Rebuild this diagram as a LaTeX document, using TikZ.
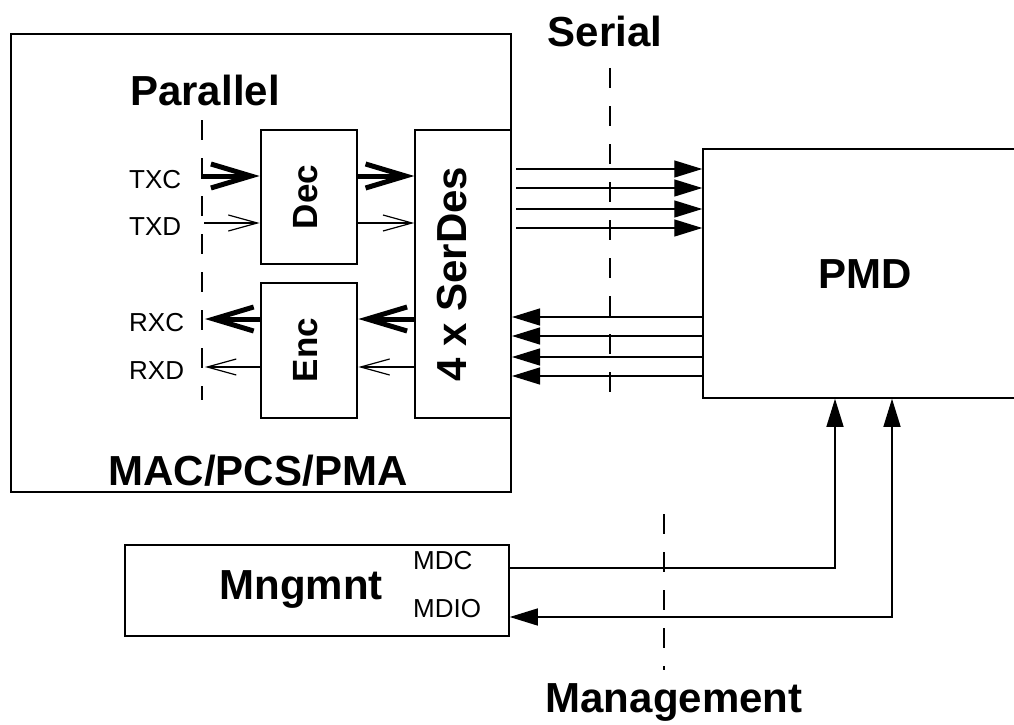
\documentclass[tikz,border=0pt]{standalone}
\usepackage{fontspec}
\setmainfont{Liberation Sans}
\usetikzlibrary{arrows.meta}
\begin{document}
\begin{tikzpicture}[x=1pt,y=-1pt,
  box/.style={draw, inner sep=0pt, line width=1.5pt},
  blockbox/.style={box, line width=2.8pt},
  biglabel/.style={inner sep=0pt, anchor=base, font=\fontsize{42}{48}\selectfont\bfseries},
  midlabel/.style={inner sep=0pt, font=\fontsize{35}{40}\selectfont\bfseries},
  siglabel/.style={inner sep=0pt, anchor=base west, font=\fontsize{26}{30}\selectfont},
  bigarrow/.style={line width=5pt, -{Straight Barb[length=40pt,width=24pt]}},
  thinarrow/.style={line width=1.2pt, -{Straight Barb[length=29pt,width=16pt]}},
  ser/.style={line width=1.3pt, -{Triangle[length=28pt,width=17pt]}},
  serboth/.style={line width=1.3pt, {Triangle[length=28pt,width=17pt]}-{Triangle[length=28pt,width=17pt]}},
  divider/.style={line width=1.2pt, dash pattern=on 20pt off 18pt}]
\useasboundingbox (0,0) rectangle (1014,725);
\clip (0,0) rectangle (1014,725);

% blocks
\node[box, line width=2pt, minimum width=500pt, minimum height=458pt] (mac) at (261,263) {};
\node[blockbox, minimum width=96pt, minimum height=134pt] (dec) at (309,197) {};
\node[blockbox, minimum width=96pt, minimum height=135pt] (enc) at (309,350.5) {};
\node[box, minimum width=96pt, minimum height=288pt] (sd) at (463,274) {};
\node[box, minimum width=327pt, minimum height=249pt] (pmd) at (866.5,273.5) {};
\node[box, minimum width=384pt, minimum height=91pt] (mng) at (317,590.5) {};

% block texts
\node[midlabel, rotate=90] (dect) at (306,197) {Dec};
\node[midlabel, rotate=90] (enct) at (306,350) {Enc};
\node[biglabel, anchor=center, rotate=90] (sdt) at (452,274) {4 x SerDes};
\node[biglabel] (pmdt) at (865,288) {PMD};
\node[biglabel] (mngt) at (301,599) {Mngmnt};
\node[biglabel] (mact) at (258,485) {MAC/PCS/PMA};
\node[biglabel] (part) at (205,105) {Parallel};
\node[biglabel] (sert) at (605,47) {Serial};
\node[biglabel] (mgtt) at (674,712) {Management};

% signal names
\node[siglabel] (txc) at (129,188) {TXC};
\node[siglabel] (txd) at (129,235) {TXD};
\node[siglabel] (rxc) at (129,331) {RXC};
\node[siglabel] (rxd) at (129,379) {RXD};
\node[siglabel] (mdct) at (413,569) {MDC};
\node[siglabel] (mdiot) at (413,617) {MDIO};

% domain boundaries
\draw[divider] (202,120) -- (202,400);
\draw[divider] (610,68) -- (610,410);
\draw[divider] (664,514) -- (664,670);

% parallel side
\coordinate (txc0) at (201,176);
\coordinate (txd0) at (204,223);
\coordinate (rxc0) at (205,319);
\coordinate (rxd0) at (205,367);
\draw[bigarrow] (txc0) -- (txc0 -| dec.west);
\draw[bigarrow] (txc0 -| dec.east) -- (txc0 -| sd.west);
\draw[thinarrow] (txd0) -- (txd0 -| dec.west);
\draw[thinarrow] (txd0 -| dec.east) -- (txd0 -| sd.west);
\draw[bigarrow] (rxc0 -| sd.west) -- (rxc0 -| enc.east);
\draw[bigarrow] (rxc0 -| enc.west) -- (rxc0);
\draw[thinarrow] (rxd0 -| sd.west) -- (rxd0 -| enc.east);
\draw[thinarrow] (rxd0 -| enc.west) -- (rxd0);

% serial lanes
\foreach \y [count=\i] in {169,188,209,228} {
  \coordinate (o\i) at (516,\y);
  \draw[ser] (o\i) -- (o\i -| pmd.west);
}
\foreach \y [count=\i] in {317,336,357,376} {
  \coordinate (r\i) at (512,\y);
  \draw[ser] (r\i -| pmd.west) -- (r\i);
}

% management interface
\coordinate (mdc) at (835,568);
\coordinate (mdio) at (892,617);
\draw[ser] (mng.east |- mdc) -- (mdc) -- (mdc |- pmd.south);
\draw[serboth] (mdio |- pmd.south) -- (mdio) -- (mng.east |- mdio);
\end{tikzpicture}
\end{document}
